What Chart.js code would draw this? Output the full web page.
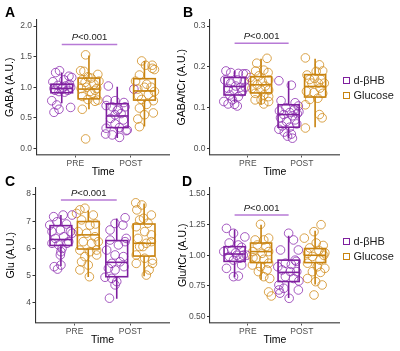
<!DOCTYPE html>
<html><head><meta charset="utf-8">
<script src="https://cdn.jsdelivr.net/npm/chart.js@4.4.1/dist/chart.umd.min.js"></script>
<style>
html,body{margin:0;padding:0;background:#fff;}
body{width:400px;height:351px;position:relative;overflow:hidden;font-family:"Liberation Sans",Arial,sans-serif;}
canvas.pc{position:absolute;}
.leg{position:absolute;left:343px;font-size:11px;color:#1a1a1a;z-index:5;}
.leg .row{height:15px;line-height:15px;display:flex;align-items:center;white-space:nowrap;}
.leg .sw{display:inline-block;width:5px;height:5px;border:1.6px solid;background:#fff;margin-right:3.5px;}
</style></head><body>
<canvas id="cA" class="pc"></canvas>
<canvas id="cB" class="pc"></canvas>
<canvas id="cC" class="pc"></canvas>
<canvas id="cD" class="pc"></canvas>
<div class="leg" id="leg1"></div>
<div class="leg" id="leg2"></div>
<script>
// ---------- data ----------
const timeLabels = ['PRE', 'POST'];
const groupLabels = ['d-βHB', 'Glucose'];
const pLabel = '<0.001';

// y ticks per panel
const gabaTicks = [0, 0.5, 1.0, 1.5, 2.0];
const gabaCrTicks = [0, 0.1, 0.2, 0.3];
const gluTicks = [4, 5, 6, 7, 8];
const gluCrTicks = [0.5, 0.75, 1.0, 1.25, 1.5];

// box stats [min, q1, median, q3, max] for PRE, POST
const gabaBoxKeto = [[0.74, 0.91, 0.98, 1.05, 1.24], [0.17, 0.34, 0.53, 0.73, 1.01]];
const gabaBoxGlc  = [[0.64, 0.81, 0.97, 1.15, 1.52], [0.36, 0.79, 0.94, 1.14, 1.43]];
const gabaCrBoxKeto = [[0.113, 0.131, 0.152, 0.174, 0.19], [0.025, 0.052, 0.083, 0.107, 0.165]];
const gabaCrBoxGlc  = [[0.107, 0.136, 0.156, 0.176, 0.22], [0.052, 0.126, 0.152, 0.181, 0.22]];
const gluBoxKeto = [[5.35, 6.11, 6.33, 6.84, 7.23], [4.15, 4.96, 5.49, 6.29, 7.10]];
const gluBoxGlc  = [[4.95, 5.98, 6.50, 6.99, 7.40], [4.98, 5.72, 6.19, 6.90, 7.65]];
const gluCrBoxKeto = [[0.82, 0.95, 1.01, 1.07, 1.21], [0.65, 0.785, 0.86, 0.96, 1.16]];
const gluCrBoxGlc  = [[0.80, 0.94, 1.03, 1.10, 1.25], [0.76, 0.94, 1.00, 1.055, 1.20]];

// individual points: [jitter, value]
const gabaPreKeto = [[-0.11,1.24],[-0.04,1.27],[0.13,1.18],[-0.16,1.09],[0.04,1.12],[0.18,1.16],[-0.07,1.03],[0.07,1.02],[0.16,1.00],[-0.14,0.98],[0,0.97],[0.11,0.95],[-0.05,0.93],[0.05,0.92],[-0.12,0.95],[0.14,1.05],[-0.18,0.78],[-0.09,0.71],[-0.05,0.64],[-0.14,0.59],[0.16,0.67],[0.02,1.0]];
const gabaPostKeto = [[-0.16,1.02],[0.30,0.97],[-0.18,0.79],[-0.04,0.78],[-0.2,0.70],[-0.09,0.68],[0.02,0.64],[0.14,0.68],[-0.04,0.55],[-0.12,0.49],[0.11,0.465],[-0.04,0.40],[-0.2,0.33],[0.04,0.34],[0.18,0.30],[-0.21,0.235],[-0.09,0.22],[0.04,0.18],[0.16,0.29],[0.07,0.57],[0,0.62],[0.12,0.75]];
const gabaPreGlc = [[-0.06,1.53],[-0.15,1.27],[-0.09,1.26],[-0.02,1.17],[0.16,1.21],[-0.12,1.12],[0.09,1.05],[-0.14,0.98],[-0.04,1.0],[0.14,0.98],[0.05,0.90],[-0.12,0.85],[0.16,0.79],[-0.02,0.80],[0.11,0.77],[-0.12,0.64],[-0.06,0.155],[0.04,1.15],[0.18,1.10],[-0.07,1.08],[0.11,0.95],[0.02,0.93]];
const gabaPostGlc = [[-0.05,1.43],[0.02,1.36],[0.14,1.36],[0.14,1.31],[-0.09,1.20],[0.18,1.29],[0.04,1.05],[-0.12,0.97],[0,1.0],[0.12,1.0],[-0.11,0.86],[0.07,0.88],[-0.05,0.80],[0.04,0.72],[0.16,0.78],[-0.09,0.66],[0,0.55],[0.16,0.58],[-0.12,0.48],[-0.09,0.355],[0.18,0.93],[-0.16,1.1]];

const gabaCrPreKeto = [[-0.16,0.19],[-0.07,0.186],[0.07,0.184],[0.16,0.183],[0.21,0.183],[-0.18,0.168],[0.05,0.168],[0.18,0.165],[-0.07,0.16],[0.02,0.153],[0.11,0.15],[-0.12,0.147],[-0.02,0.143],[0.14,0.139],[-0.09,0.131],[0.07,0.127],[0.2,0.15],[-0.2,0.115],[-0.12,0.109],[0,0.108],[0.05,0.104],[-0.04,0.119]];
const gabaCrPostKeto = [[-0.18,0.166],[0.05,0.155],[-0.14,0.117],[0.12,0.112],[0.18,0.104],[-0.05,0.1],[0.1,0.095],[-0.17,0.092],[0.02,0.088],[0.16,0.085],[-0.09,0.083],[0.07,0.08],[-0.15,0.075],[0.12,0.07],[-0.04,0.066],[0.15,0.06],[-0.12,0.055],[0.02,0.052],[-0.18,0.047],[-0.08,0.04],[0.05,0.035],[-0.02,0.03],[0.07,0.025],[0.19,0.09]];
const gabaCrPreGlc = [[0.11,0.221],[-0.08,0.209],[0.05,0.192],[-0.1,0.19],[0.13,0.186],[-0.2,0.174],[-0.04,0.178],[-0.16,0.164],[0.02,0.164],[0.14,0.168],[-0.07,0.156],[0.08,0.153],[-0.17,0.147],[0,0.143],[0.14,0.143],[-0.11,0.135],[0.05,0.131],[0.14,0.127],[0,0.119],[0.14,0.115],[0.05,0.109],[-0.11,0.119]];
const gabaCrPostGlc = [[-0.18,0.222],[0.08,0.205],[0.02,0.189],[0.14,0.19],[-0.15,0.18],[-0.1,0.169],[0.11,0.169],[0.06,0.16],[-0.06,0.16],[0.17,0.16],[-0.16,0.14],[-0.02,0.137],[0.14,0.135],[-0.1,0.12],[0.05,0.123],[-0.18,0.107],[0.08,0.083],[0.13,0.075],[-0.18,0.05],[-0.01,0.172],[0.09,0.148]];

const gluPreKeto = [[-0.13,7.17],[0.04,7.23],[0.2,7.23],[-0.2,6.86],[-0.07,6.98],[0.1,6.9],[0.17,6.62],[-0.16,6.62],[-0.01,6.68],[-0.1,6.37],[0.05,6.43],[0.14,6.25],[-0.16,6.19],[-0.04,6.13],[0.11,6.19],[0,5.88],[-0.01,5.76],[0.02,6.0],[-0.12,5.33],[-0.06,5.24],[0,5.39],[0.2,6.56]];
const gluPostKeto = [[0.15,7.13],[-0.03,6.92],[0.11,6.86],[-0.12,6.68],[-0.12,6.31],[0.03,6.13],[0.15,6.25],[-0.18,5.94],[-0.03,5.76],[0.12,5.7],[-0.09,5.45],[0.06,5.51],[-0.15,5.27],[-0.03,5.21],[0.13,5.33],[-0.21,4.94],[-0.09,4.9],[0,4.78],[-0.03,4.66],[-0.13,4.17],[0.17,6.37]];
const gluPreGlc = [[-0.15,7.42],[-0.06,7.48],[0.09,7.23],[-0.12,7.05],[0.03,6.86],[0.13,6.9],[-0.18,6.62],[-0.03,6.56],[0.12,6.43],[-0.09,6.25],[0.06,6.19],[0.18,6.25],[-0.15,5.94],[0.03,5.88],[0.15,5.94],[-0.06,5.7],[-0.12,5.51],[0,5.39],[-0.15,5.21],[0.02,4.96],[0.15,5.76],[-0.21,7.29]];
const gluPostGlc = [[-0.15,7.68],[-0.04,7.6],[-0.13,7.42],[0.13,7.23],[-0.08,7.05],[0.07,6.93],[-0.14,6.8],[0.01,6.62],[0.13,6.5],[-0.11,6.37],[0.04,6.19],[-0.02,6.07],[0.13,6.25],[-0.14,5.76],[0.01,5.64],[0.15,5.57],[-0.14,5.45],[0.15,5.45],[0.09,5.21],[0.04,5.02],[-0.08,6.07],[-0.01,7.11]];

const gluCrPreKeto = [[-0.15,1.22],[-0.02,1.18],[0.19,1.15],[-0.1,1.10],[0.07,1.084],[0.13,1.065],[-0.2,1.03],[-0.05,1.043],[0.04,1.0],[0.16,1.0],[-0.1,0.99],[0.1,0.975],[-0.02,0.96],[-0.15,0.893],[0.13,0.92],[-0.02,0.825],[0.07,0.83],[0.22,1.0],[0.02,1.02]];
const gluCrPostKeto = [[0,1.18],[0.09,1.125],[-0.15,1.043],[0.18,1.043],[-0.06,0.935],[0.05,0.925],[0.14,0.95],[-0.12,0.88],[0.03,0.866],[0.15,0.866],[-0.06,0.825],[0.09,0.81],[-0.18,0.757],[-0.09,0.73],[0.18,0.716],[-0.18,0.716],[-0.16,0.69],[0.01,0.648],[0.12,0.96],[-0.2,0.906],[0.19,0.79]];
const gluCrPreGlc = [[-0.01,1.253],[-0.11,1.125],[0.05,1.125],[0.14,1.14],[-0.07,1.084],[0.09,1.07],[-0.15,1.03],[0.02,1.016],[0.14,1.03],[-0.09,0.975],[0.05,0.967],[0.14,0.935],[-0.16,0.92],[-0.01,0.906],[0.11,0.88],[-0.05,0.866],[0.05,0.825],[0.16,0.81],[0.14,0.70],[0.19,0.667],[-0.15,0.98]];
const gluCrPostGlc = [[0.11,1.25],[-0.02,1.193],[-0.2,1.14],[0.02,1.1],[0.15,1.08],[-0.14,1.016],[0.16,1.0],[-0.05,0.99],[0.09,0.96],[-0.14,0.935],[0.04,0.906],[0.18,0.893],[-0.05,0.866],[0.1,0.86],[-0.14,0.81],[0.01,0.784],[0.13,0.757],[-0.02,0.675],[-0.1,1.06],[0.07,1.04],[0.18,1.02]];

// significance bar heights
const sigLevels = [1.70, 0.258, 7.78, 1.33];

// ---------- styling ----------
const KETO = '#7E1F9E', KETO_PT = 'rgba(140,45,175,0.78)';
const GLC = '#C8830F', GLC_PT = 'rgba(208,138,25,0.78)';
const SIG = '#B77AD6';
const FONT = '"Liberation Sans", Arial, Helvetica, sans-serif';
const DODGE = 0.245, HALFW = 0.195;
Chart.defaults.font.family = FONT;

const boxPlugin = {
  id: 'boxplots',
  afterDatasetsDraw(chart, args, o) {
    const {ctx, scales: {x, y}} = chart;
    ctx.save();
    ctx.lineWidth = 1.6;
    o.boxes.forEach(b => {
      const [mn, q1, md, q3, mx] = b.s;
      const xc = x.getPixelForValue(b.x);
      const hw = x.getPixelForValue(b.x + HALFW) - xc;
      ctx.strokeStyle = b.color;
      ctx.beginPath();
      ctx.moveTo(xc, y.getPixelForValue(mx)); ctx.lineTo(xc, y.getPixelForValue(q3));
      ctx.moveTo(xc, y.getPixelForValue(q1)); ctx.lineTo(xc, y.getPixelForValue(mn));
      ctx.stroke();
      const t = y.getPixelForValue(q3), bt = y.getPixelForValue(q1);
      ctx.strokeRect(xc - hw, t, 2 * hw, bt - t);
      ctx.beginPath();
      ctx.moveTo(xc - hw, y.getPixelForValue(md)); ctx.lineTo(xc + hw, y.getPixelForValue(md));
      ctx.stroke();
    });
    // significance bar
    const x1 = x.getPixelForValue(1 - DODGE), x2 = x.getPixelForValue(2 - DODGE);
    const yy = y.getPixelForValue(o.sig);
    ctx.strokeStyle = SIG; ctx.lineWidth = 1.5;
    ctx.beginPath(); ctx.moveTo(x1, yy); ctx.lineTo(x2, yy); ctx.stroke();
    ctx.fillStyle = '#1a1a1a';
    ctx.textBaseline = 'middle';
    ctx.font = 'italic 9.5px ' + FONT;
    const wP = ctx.measureText('P').width;
    ctx.font = '9.5px ' + FONT;
    const wR = ctx.measureText(pLabel).width;
    let sx = (x1 + x2) / 2 - (wP + wR) / 2;
    const ty = yy - o.sigGap;
    ctx.font = 'italic 9.5px ' + FONT; ctx.textAlign = 'left';
    ctx.fillText('P', sx, ty);
    ctx.font = '9.5px ' + FONT;
    ctx.fillText(pLabel, sx + wP, ty);
    // panel letter
    ctx.font = 'bold 14px ' + FONT;
    ctx.fillStyle = '#000';
    ctx.textBaseline = 'alphabetic';
    ctx.fillText(o.letter, o.lx, o.ly);
    ctx.restore();
  }
};
Chart.register(boxPlugin);

function pts(pre, post, off) {
  return pre.map(([j, v]) => ({x: 1 + off + j, y: v}))
    .concat(post.map(([j, v]) => ({x: 2 + off + j, y: v})));
}

function makePanel(id, geo, yCfg, keto, glc, boxK, boxG, sig, letter) {
  const cv = document.getElementById(id);
  cv.width = geo.w; cv.height = geo.h;
  cv.style.left = geo.left + 'px'; cv.style.top = geo.top + 'px';
  cv.style.width = geo.w + 'px'; cv.style.height = geo.h + 'px';
  const yW = geo.l - geo.left, xH = geo.top + geo.h - geo.b;
  const tickFont = {size: 8.5, family: FONT};
  const titleFont = {size: 10.5, family: FONT};
  new Chart(cv, {
    type: 'scatter',
    data: {datasets: [
      {label: groupLabels[0], data: pts(keto[0], keto[1], -DODGE), borderColor: KETO_PT, backgroundColor: 'rgba(0,0,0,0)', pointRadius: 4.3, borderWidth: 1},
      {label: groupLabels[1], data: pts(glc[0], glc[1], DODGE), borderColor: GLC_PT, backgroundColor: 'rgba(0,0,0,0)', pointRadius: 4.3, borderWidth: 1}
    ]},
    options: {
      responsive: false, animation: false, events: [],
      layout: {padding: {left: 0, top: geo.t - geo.top, right: geo.left + geo.w - geo.r, bottom: 0}},
      plugins: {legend: {display: false}, tooltip: {enabled: false},
        boxplots: {boxes: [
          {x: 1 - DODGE, s: boxK[0], color: KETO}, {x: 1 + DODGE, s: boxG[0], color: GLC},
          {x: 2 - DODGE, s: boxK[1], color: KETO}, {x: 2 + DODGE, s: boxG[1], color: GLC}],
          sig: sig, sigGap: 7, letter: letter, lx: geo.lx, ly: geo.ly}},
      scales: {
        x: {type: 'linear', min: 0.3, max: 2.7, bounds: 'data',
          afterBuildTicks: s => { s.ticks = timeLabels.map((_, i) => ({value: i + 1})); },
          afterFit: s => { s.height = xH; },
          ticks: {callback: v => timeLabels[Math.round(v) - 1], font: tickFont, color: '#4d4d4d', padding: 1, autoSkip: false, maxRotation: 0},
          grid: {drawOnChartArea: false, drawTicks: true, tickLength: 3, color: '#555'},
          border: {display: true, color: '#6a6a6a', width: 1.5},
          title: {display: true, text: 'Time', font: titleFont, color: '#000', padding: {top: 0, bottom: 4.2}}},
        y: {type: 'linear', min: yCfg.min, max: yCfg.max, bounds: 'data',
          afterBuildTicks: s => { s.ticks = yCfg.ticks.map(v => ({value: v})); },
          afterFit: s => { s.width = yW; },
          ticks: {callback: v => v.toFixed(yCfg.dec), font: tickFont, color: '#4d4d4d', padding: 1.5},
          grid: {drawOnChartArea: false, drawTicks: true, tickLength: 3, color: '#333'},
          border: {display: true, color: '#333', width: 1.1},
          title: {display: true, text: yCfg.title, font: titleFont, color: '#000', padding: {top: yCfg.tpad, bottom: 0}}}
      }
    }
  });
}

makePanel('cA', {left: 0, top: 0, w: 175, h: 183, l: 36.5, r: 170, t: 20, b: 154.5, lx: 5, ly: 17},
  {min: -0.1, max: 2.1, ticks: gabaTicks, dec: 1, title: 'GABA (A.U.)', tpad: 3.7},
  [gabaPreKeto, gabaPostKeto], [gabaPreGlc, gabaPostGlc], gabaBoxKeto, gabaBoxGlc, sigLevels[0], 'A');
makePanel('cB', {left: 170, top: 0, w: 175, h: 183, l: 210, r: 342, t: 20, b: 154.5, lx: 13, ly: 17},
  {min: -0.015, max: 0.315, ticks: gabaCrTicks, dec: 1, title: 'GABA/tCr (A.U.)', tpad: 5.7},
  [gabaCrPreKeto, gabaCrPostKeto], [gabaCrPreGlc, gabaCrPostGlc], gabaCrBoxKeto, gabaCrBoxGlc, sigLevels[1], 'B');
makePanel('cC', {left: 0, top: 170, w: 175, h: 181, l: 35.5, r: 169.5, t: 188, b: 322.5, lx: 5, ly: 16},
  {min: 3.275, max: 8.225, ticks: gluTicks, dec: 0, title: 'Glu (A.U.)', tpad: 4.5},
  [gluPreKeto, gluPostKeto], [gluPreGlc, gluPostGlc], gluBoxKeto, gluBoxGlc, sigLevels[2], 'C');
makePanel('cD', {left: 170, top: 170, w: 175, h: 181, l: 210, r: 342, t: 188, b: 322.5, lx: 12, ly: 16},
  {min: 0.45, max: 1.55, ticks: gluCrTicks, dec: 2, title: 'Glu/tCr (A.U.)', tpad: 6.7},
  [gluCrPreKeto, gluCrPostKeto], [gluCrPreGlc, gluCrPostGlc], gluCrBoxKeto, gluCrBoxGlc, sigLevels[3], 'D');

// legends
function legend(id, top) {
  const el = document.getElementById(id);
  el.style.top = top + 'px';
  [[groupLabels[0], KETO], [groupLabels[1], GLC]].forEach(([t, c]) => {
    const r = document.createElement('div'); r.className = 'row';
    const s = document.createElement('span'); s.className = 'sw'; s.style.borderColor = c;
    r.appendChild(s); r.appendChild(document.createTextNode(t)); el.appendChild(r);
  });
}
legend('leg1', 72.5);
legend('leg2', 233.5);
</script>
</body></html>
